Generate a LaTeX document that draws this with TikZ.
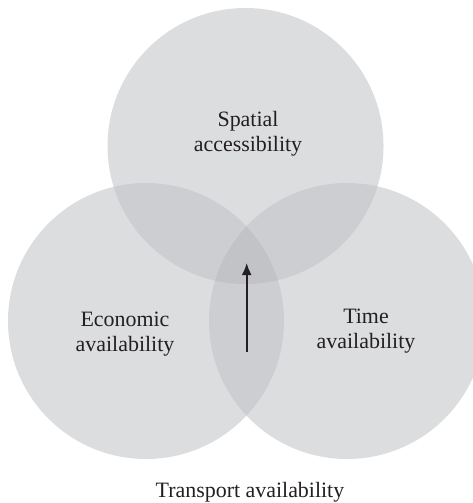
\documentclass[tikz,border=0pt]{standalone}
\usepackage{fontspec}
\setmainfont{Liberation Serif}
\usetikzlibrary{arrows.meta}
\definecolor{vsingle}{HTML}{DCDDDF}
\definecolor{vdouble}{HTML}{CDCED1}
\definecolor{vtriple}{HTML}{C2C3C6}
\definecolor{ink}{HTML}{231F20}
\begin{document}
\begin{tikzpicture}[x=1bp,y=-1bp,
  vset/.style={circle, minimum size=276bp, inner sep=0pt, outer sep=0pt, fill=vsingle},
  lbl/.style={font=\fontsize{22}{25.5}\selectfont, align=center, text=ink, inner sep=0pt},
  pointer/.style={-{Latex[length=12bp,width=10bp]}, line width=2bp, draw=ink},
]
\useasboundingbox (0,0) rectangle (473,503);
\clip (0,0) rectangle (473,503);
% the three sets
\node[vset] (S) at (245.5,146) {};
\node[vset] (E) at (146,321) {};
\node[vset] (T) at (347,321) {};
% pairwise overlaps
\begin{scope}
  \clip (S.center) circle[radius=138bp];
  \fill[vdouble] (E.center) circle[radius=138bp];
  \fill[vdouble] (T.center) circle[radius=138bp];
\end{scope}
\begin{scope}
  \clip (E.center) circle[radius=138bp];
  \fill[vdouble] (T.center) circle[radius=138bp];
\end{scope}
% common core
\begin{scope}
  \clip (S.center) circle[radius=138bp];
  \clip (E.center) circle[radius=138bp];
  \fill[vtriple] (T.center) circle[radius=138bp];
\end{scope}
% labels
\node[lbl] (ls) at (248,134) {Spatial\\accessibility};
\node[lbl] (le) at (125,334) {Economic\\availability};
\node[lbl] (lt) at (366,331) {Time\\availability};
\node[lbl] (lr) at (250,492) {Transport availability};
% pointer to the core
\coordinate (tail) at (246.7,352);
\coordinate (tip) at (246.7,263);
\draw[pointer] (tail) -- (tip);
\end{tikzpicture}
\end{document}
